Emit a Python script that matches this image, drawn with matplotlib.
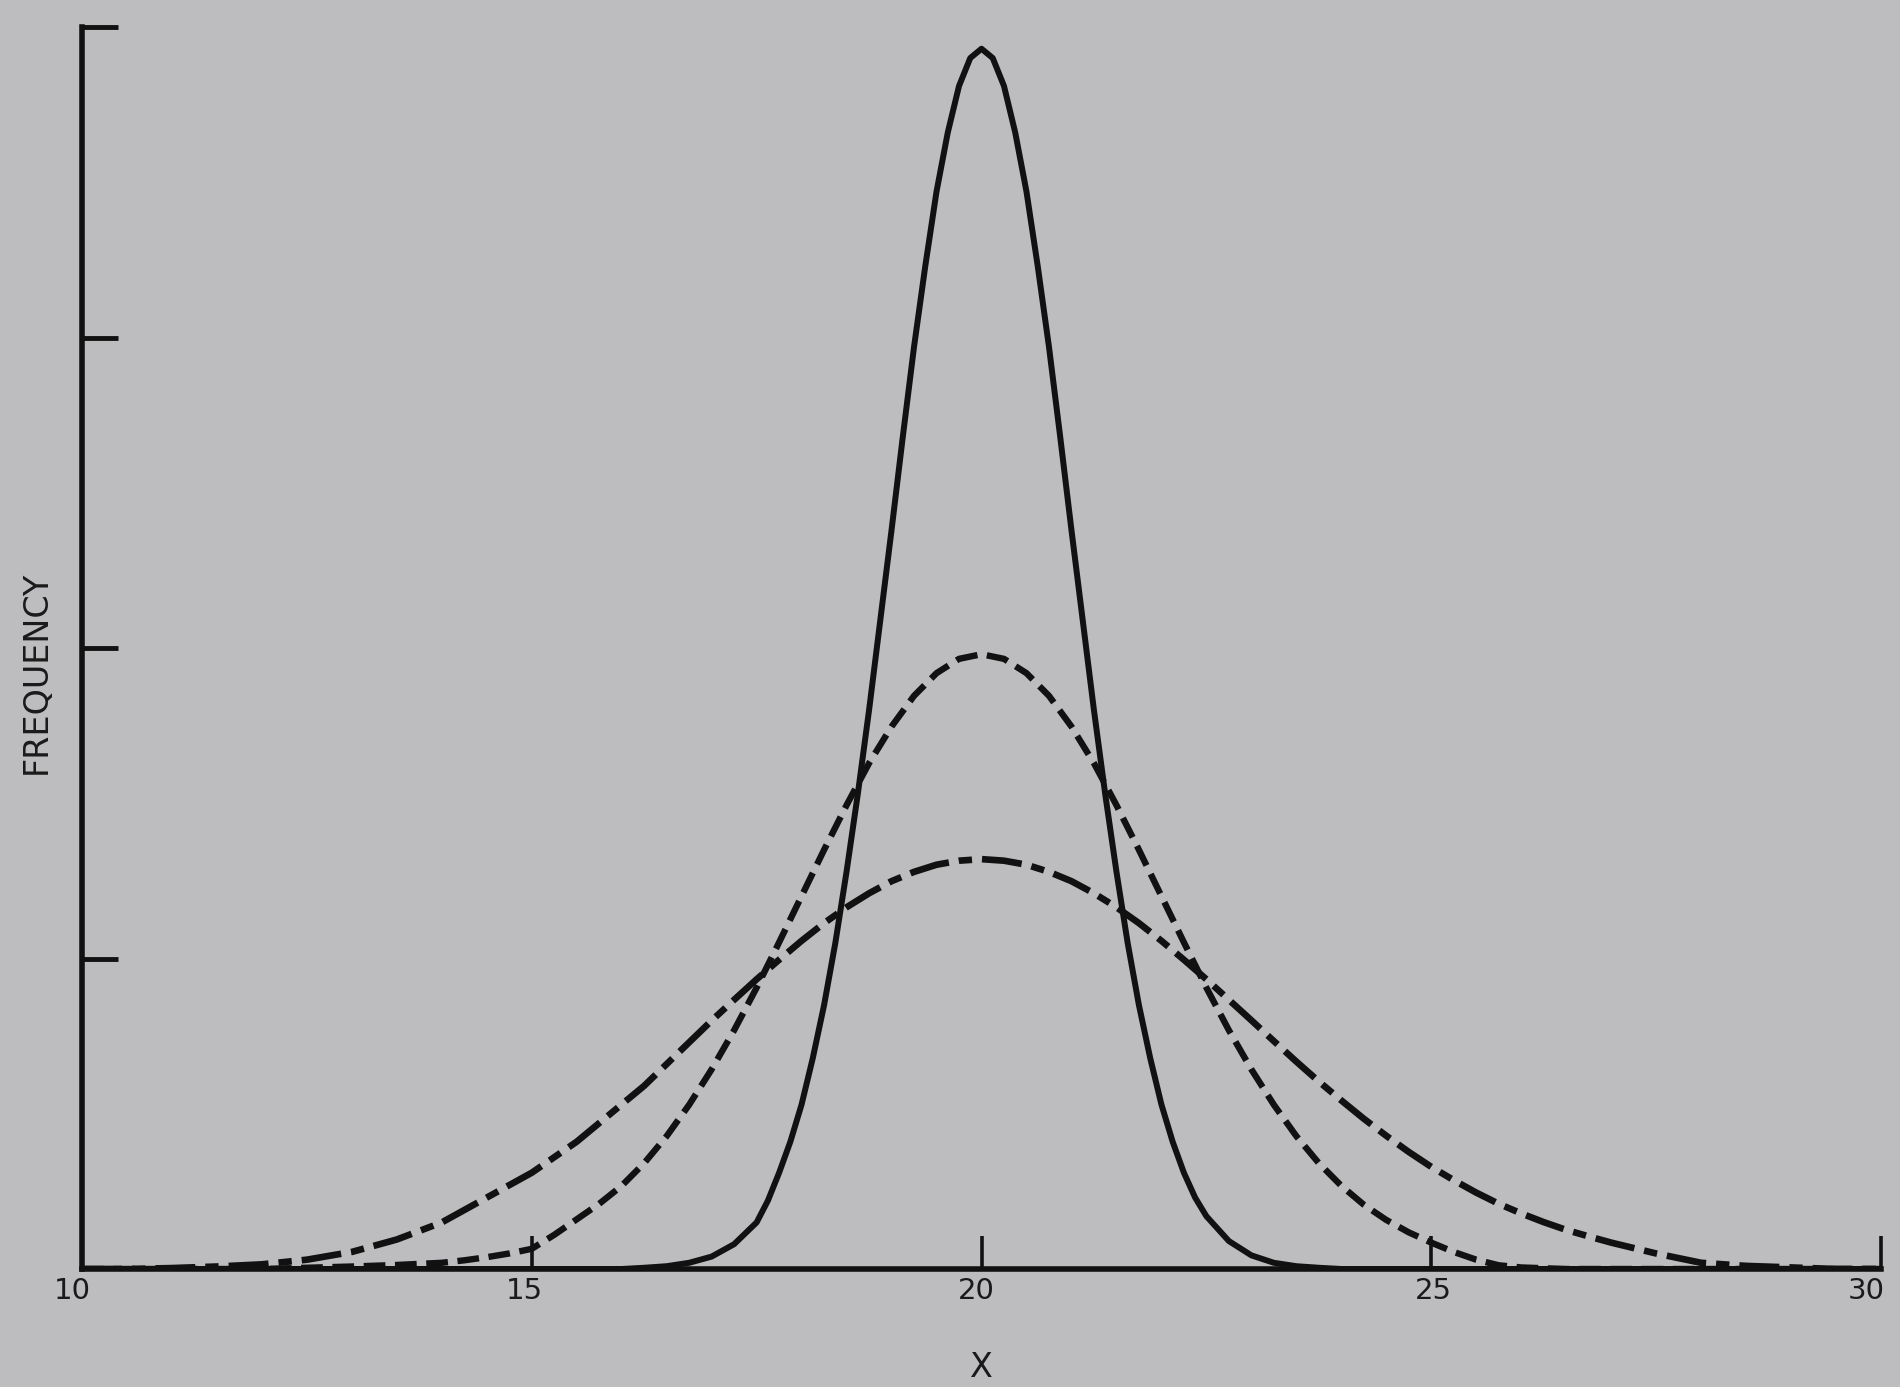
import numpy as np
import matplotlib
matplotlib.use("Agg")
import matplotlib.pyplot as plt
from matplotlib.transforms import ScaledTranslation

# ---------------------------------------------------------------- #
# values (y in tick units, 0..4)
# ---------------------------------------------------------------- #
solid_x = [10, 15, 16, 16.25, 16.5, 16.75, 17, 17.25, 17.5, 17.625, 17.75,
           17.875, 18, 18.125, 18.25, 18.375, 18.5, 18.625, 18.75, 18.875,
           19, 19.125, 19.25, 19.375, 19.5, 19.625, 19.75, 19.875, 20,
           20.125, 20.25, 20.375, 20.5, 20.625, 20.75, 20.875, 21, 21.125,
           21.25, 21.375, 21.5, 21.625, 21.75, 21.875, 22, 22.125, 22.25,
           22.375, 22.5, 22.75, 23, 23.25, 23.5, 23.75, 24, 25, 30]
solid_y = [0, 0, 0, 0.004, 0.009, 0.02, 0.04, 0.08, 0.15, 0.22, 0.31,
           0.41, 0.53, 0.68, 0.85, 1.05, 1.28, 1.53, 1.80, 2.09,
           2.38, 2.68, 2.97, 3.23, 3.47, 3.66, 3.81, 3.90, 3.93,
           3.90, 3.81, 3.66, 3.47, 3.23, 2.97, 2.68, 2.38, 2.09,
           1.80, 1.53, 1.28, 1.05, 0.85, 0.68, 0.53, 0.41, 0.31,
           0.23, 0.17, 0.09, 0.044, 0.02, 0.009, 0.004, 0, 0, 0]

dash_x = [10, 12, 12.5, 13, 13.5, 14, 14.25, 14.5, 14.75, 15, 15.25, 15.5,
          15.75, 16, 16.25, 16.5, 16.75, 17, 17.25, 17.5, 17.75, 18, 18.25,
          18.5, 18.75, 19, 19.25, 19.5, 19.75, 20, 20.25, 20.5, 20.75, 21,
          21.25, 21.5, 21.75, 22, 22.25, 22.5, 22.75, 23, 23.25, 23.5, 23.75,
          24, 24.25, 24.5, 24.75, 25, 25.25, 25.5, 25.75, 26, 26.5, 30]
dash_y = [0, 0, 0.004, 0.008, 0.013, 0.02, 0.028, 0.038, 0.05, 0.065, 0.11,
          0.16, 0.21, 0.268, 0.341, 0.428, 0.529, 0.643, 0.769, 0.906, 1.052,
          1.201, 1.350, 1.494, 1.629, 1.747, 1.846, 1.919, 1.965, 1.98, 1.965,
          1.919, 1.846, 1.747, 1.629, 1.494, 1.350, 1.201, 1.052, 0.906,
          0.769, 0.643, 0.529, 0.428, 0.341, 0.268, 0.207, 0.158, 0.118,
          0.085, 0.055, 0.03, 0.012, 0.005, 0, 0]

dd_x = [10, 10.5, 11, 11.5, 12, 12.5, 13, 13.5, 14, 14.25, 14.5, 14.75, 15,
        15.25, 15.5, 15.75, 16, 16.25, 16.5, 16.75, 17, 17.25, 17.5, 17.75,
        18, 18.25, 18.5, 18.75, 19, 19.25, 19.5, 19.75, 20, 20.25, 20.5,
        20.75, 21, 21.25, 21.5, 21.75, 22, 22.25, 22.5, 22.75, 23, 23.25,
        23.5, 23.75, 24, 24.25, 24.5, 24.75, 25, 25.25, 25.5, 25.75, 26,
        26.25, 26.5, 26.75, 27, 27.5, 28, 28.5, 29, 29.5, 30]
dd_y = [0, 0, 0.003, 0.008, 0.015, 0.03, 0.055, 0.095, 0.15, 0.19, 0.23,
        0.27, 0.31, 0.36, 0.41, 0.47, 0.53, 0.59, 0.66, 0.73, 0.80, 0.867,
        0.933, 0.996, 1.057, 1.114, 1.165, 1.210, 1.249, 1.279, 1.302, 1.315,
        1.32, 1.315, 1.302, 1.279, 1.249, 1.210, 1.165, 1.114, 1.057, 0.996,
        0.933, 0.867, 0.801, 0.734, 0.668, 0.604, 0.543, 0.484, 0.429, 0.377,
        0.329, 0.286, 0.246, 0.210, 0.179, 0.151, 0.126, 0.105, 0.085, 0.05,
        0.02, 0.01, 0.005, 0, 0]

x_ticks = [10, 15, 20, 25, 30]
y_ticks = [1, 2, 3, 4]
# small horizontal nudges of the printed tick labels, in pixels
x_label_nudge = [-10, -7, -5, 2, -15]

BG = "#bdbdbf"
INK = "#111111"
TXT = "#1a1a1a"

plt.rcParams["font.family"] = ["DejaVu Sans"]

W, H = 1900, 1387
fig = plt.figure(figsize=(W / 100, H / 100), dpi=100, facecolor=BG)
ax = fig.add_axes([82 / W, 1 - 1269 / H, (1881 - 82) / W, (1269 - 27) / H])
ax.set_facecolor(BG)

ax.plot(solid_x, solid_y, color=INK, lw=4.3, solid_joinstyle="round",
        solid_capstyle="round")
ax.plot(dash_x, dash_y, color=INK, lw=4.6, linestyle=(0, (3.4, 1.5)),
        dash_capstyle="butt")
ax.plot(dd_x, dd_y, color=INK, lw=4.8, linestyle=(0, (6.0, 1.5, 2.0, 1.5)),
        dash_capstyle="butt")

ax.set_xlim(10, 30)
ax.set_ylim(0, 4)
for s in ("top", "right"):
    ax.spines[s].set_visible(False)
for s in ("left", "bottom"):
    ax.spines[s].set_linewidth(4.0)
    ax.spines[s].set_color(INK)

ax.set_xticks(x_ticks)
ax.set_xticklabels([str(v) for v in x_ticks])
ax.set_yticks(y_ticks)
ax.set_yticklabels([])
ax.tick_params(axis="y", direction="in", length=26, width=3.5, color=INK)
ax.tick_params(axis="x", direction="in", length=24, width=2.6, color=INK,
               pad=6, labelsize=21, labelcolor=TXT)
for lab, dx in zip(ax.get_xticklabels(), x_label_nudge):
    lab.set_transform(lab.get_transform() +
                      ScaledTranslation(dx / 100, 0, fig.dpi_scale_trans))

fig.text(36 / W, 1 - 672 / H, "FREQUENCY", rotation=90, ha="center",
         va="center", fontsize=24, color=TXT)
fig.text(981 / W, 3 / H, "X", ha="center", va="bottom", fontsize=24,
         color=TXT)

fig.savefig("out.png", dpi=100, facecolor=BG)
